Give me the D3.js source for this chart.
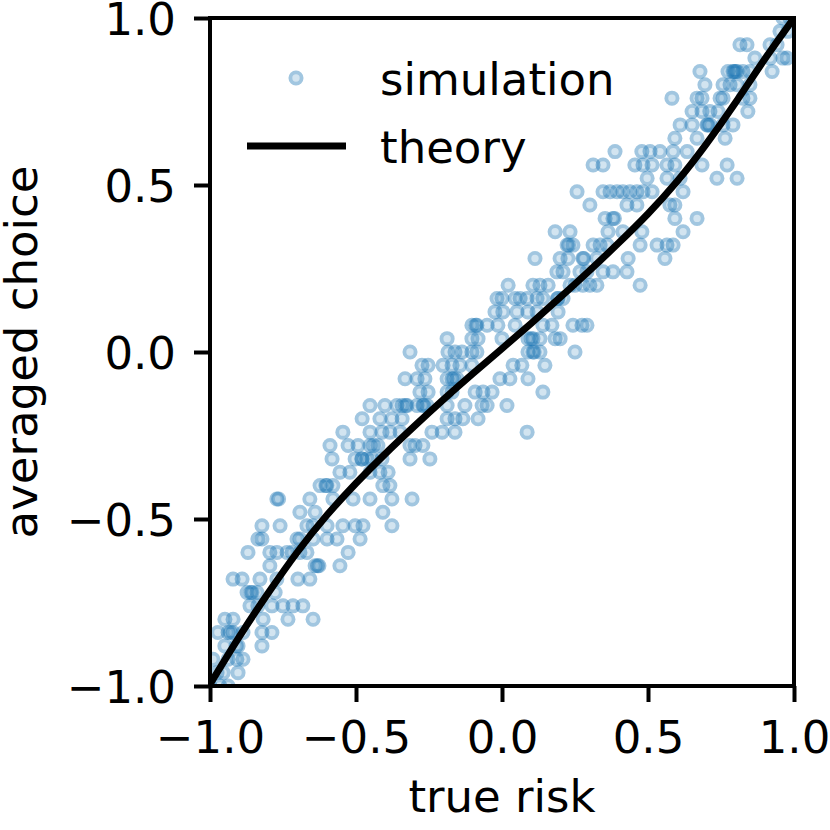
<!DOCTYPE html>
<html>
<head>
<meta charset="utf-8">
<script src="https://cdn.jsdelivr.net/npm/d3@7"></script>
<style>
    body { margin: 0; background: #fff; }
    text { font-family: "DejaVu Sans", sans-serif; fill: #000; }
</style>
</head>
<body>
<svg id="chart" width="830" height="830" viewBox="0 0 830 830"></svg>
<script>
// Averaged choice levels (rows of the scatter), from -1.00 to 1.00
const choiceLevels = [
    -1.00, -0.96, -0.92, -0.88, -0.84, -0.80, -0.76, -0.72, -0.68, -0.64,
    -0.60, -0.56, -0.52, -0.48, -0.44, -0.40, -0.36, -0.32, -0.28, -0.24,
    -0.20, -0.16, -0.12, -0.08, -0.04, 0.00, 0.04, 0.08, 0.12, 0.16,
    0.20, 0.24, 0.28, 0.32, 0.36, 0.40, 0.44, 0.48, 0.52, 0.56,
    0.60, 0.64, 0.68, 0.72, 0.76, 0.80, 0.84, 0.88, 0.92, 0.96, 1.00
];

// True risk of every simulated point, one list per choice level
const riskByLevel = [
    [-1.000, -0.966, -0.938],
    [-0.976, -0.955, -0.904],
    [-0.990, -0.938, -0.908, -0.887],
    [-0.949, -0.910, -0.904, -0.822],
    [-0.973, -0.938, -0.930, -0.921, -0.887, -0.822, -0.788],
    [-0.949, -0.921, -0.818, -0.733, -0.647],
    [-0.863, -0.836, -0.788, -0.750, -0.716, -0.682],
    [-0.873, -0.860, -0.856, -0.839, -0.777],
    [-0.921, -0.890, -0.829, -0.771, -0.699, -0.658],
    [-0.795, -0.640, -0.632, -0.627, -0.555],
    [-0.870, -0.795, -0.771, -0.736, -0.719, -0.692, -0.668, -0.527],
    [-0.836, -0.822, -0.702, -0.692, -0.647, -0.599, -0.565, -0.486],
    [-0.822, -0.760, -0.668, -0.647, -0.599, -0.545, -0.503, -0.476, -0.377],
    [-0.692, -0.640, -0.408],
    [-0.771, -0.765, -0.658, -0.579, -0.510, -0.452, -0.377, -0.308],
    [-0.623, -0.603, -0.600, -0.579, -0.408, -0.384],
    [-0.555, -0.521, -0.452, -0.418, -0.390],
    [-0.582, -0.503, -0.480, -0.479, -0.462, -0.445, -0.411, -0.315, -0.247],
    [-0.589, -0.527, -0.493, -0.452, -0.440, -0.425, -0.315, -0.298, -0.271],
    [-0.545, -0.452, -0.411, -0.384, -0.349, -0.240, -0.205, -0.161, 0.086],
    [-0.479, -0.418, -0.377, -0.342, -0.188, -0.161, -0.134, -0.082],
    [-0.452, -0.401, -0.360, -0.342, -0.330, -0.325, -0.291, -0.271, -0.268, -0.257, -0.188, -0.127, -0.068, -0.051, 0.017],
    [-0.281, -0.253, -0.188, -0.171, -0.092, -0.065, -0.034, 0.140],
    [-0.332, -0.291, -0.264, -0.188, -0.171, -0.165, -0.154, -0.007, 0.027, 0.089],
    [-0.274, -0.253, -0.202, -0.171, -0.144, -0.103, 0.038, 0.068, 0.147],
    [-0.315, -0.185, -0.161, -0.137, -0.103, -0.086, 0.089, 0.106, 0.110, 0.130, 0.250],
    [-0.188, -0.103, -0.082, 0.000, 0.089, 0.100, 0.106, 0.130, 0.182, 0.199],
    [-0.103, -0.090, -0.086, -0.051, -0.014, 0.045, 0.140, 0.171, 0.243, 0.274, 0.291],
    [-0.024, 0.003, 0.051, 0.089, 0.120, 0.192],
    [-0.017, 0.000, 0.045, 0.062, 0.086, 0.120, 0.140, 0.190, 0.192, 0.209],
    [0.021, 0.106, 0.130, 0.158, 0.233, 0.250, 0.277, 0.301, 0.325, 0.473],
    [0.188, 0.209, 0.267, 0.291, 0.346, 0.380, 0.428],
    [0.113, 0.199, 0.226, 0.277, 0.280, 0.325, 0.432, 0.558],
    [0.223, 0.228, 0.243, 0.312, 0.336, 0.360, 0.473, 0.531, 0.565, 0.586],
    [0.182, 0.233, 0.363, 0.414, 0.479, 0.620],
    [0.353, 0.380, 0.385, 0.592, 0.668],
    [0.301, 0.428, 0.462, 0.575, 0.592],
    [0.257, 0.346, 0.370, 0.394, 0.414, 0.438, 0.462, 0.483, 0.514, 0.620],
    [0.497, 0.565, 0.610, 0.736, 0.805],
    [0.312, 0.346, 0.455, 0.483, 0.514, 0.565, 0.592, 0.685, 0.771],
    [0.387, 0.479, 0.507, 0.541, 0.586, 0.634],
    [0.592, 0.668, 0.764],
    [0.610, 0.651, 0.702, 0.705, 0.712, 0.757, 0.791],
    [0.651, 0.685, 0.712, 0.740, 0.842],
    [0.582, 0.668, 0.685, 0.747, 0.757, 0.825, 0.849],
    [0.695, 0.757, 0.781, 0.805, 0.849],
    [0.678, 0.774, 0.791, 0.795, 0.800, 0.805, 0.825, 0.849, 0.925],
    [0.866, 0.918, 0.962, 0.976],
    [0.815, 0.839, 0.918, 0.942],
    [0.952, 0.979],
    [0.962, 0.986]
];

// Theory curve, every 0.1 of true risk
const theoryRisk = [-1.0, -0.9, -0.8, -0.7, -0.6, -0.5, -0.4, -0.3, -0.2, -0.1, 0.0,
    0.1, 0.2, 0.3, 0.4, 0.5, 0.6, 0.7, 0.8, 0.9, 1.0];
const theoryChoice = [-0.995, -0.853, -0.721, -0.598, -0.489, -0.393, -0.305, -0.222, -0.142, -0.065, 0.01,
    0.086, 0.164, 0.244, 0.327, 0.414, 0.511, 0.623, 0.747, 0.877, 1.0];

const tickValues = [-1.0, -0.5, 0.0, 0.5, 1.0];
const legendLabels = ["simulation", "theory"];

const blue = "#1f77b4";
const fontSize = 45;

const svg = d3.select('#chart');

// Plot area
const plot = { left: 210, right: 794, top: 18, bottom: 686 };

const x = d3.scaleLinear()
    .domain([-1, 1])
    .range([plot.left, plot.right]);

const y = d3.scaleLinear()
    .domain([-1, 1])
    .range([plot.bottom, plot.top]);

// Flatten rows into points
const points = [];
choiceLevels.forEach((c, i) => {
    riskByLevel[i].forEach(r => points.push({ risk: r, choice: c }));
});

// Clip to axes
svg.append("defs")
    .append("clipPath")
    .attr("id", "plot-clip")
    .append("rect")
    .attr("x", plot.left)
    .attr("y", plot.top)
    .attr("width", plot.right - plot.left)
    .attr("height", plot.bottom - plot.top);

// One marker: pale disc with a darker ring
function drawMarker(sel) {
    sel.append("circle")
        .attr("r", 7.5)
        .attr("fill", blue)
        .attr("fill-opacity", 0.2);
    sel.append("circle")
        .attr("r", 5.6)
        .attr("fill", "none")
        .attr("stroke", blue)
        .attr("stroke-opacity", 0.27)
        .attr("stroke-width", 3.8);
}

// Simulation markers
svg.append("g")
    .attr("clip-path", "url(#plot-clip)")
    .selectAll(".marker")
    .data(points)
    .enter()
    .append("g")
    .classed("marker", true)
    .attr("transform", d => "translate(" + x(d.risk) + "," + y(d.choice) + ")")
    .call(drawMarker);

// Theory line
const line = d3.line()
    .x(d => x(d[0]))
    .y(d => y(d[1]))
    .curve(d3.curveNatural);

svg.append("path")
    .datum(theoryRisk.map((r, i) => [r, theoryChoice[i]]))
    .attr("clip-path", "url(#plot-clip)")
    .attr("d", line)
    .attr("fill", "none")
    .attr("stroke", "#000")
    .attr("stroke-width", 7);

// Axes
const fmt = d3.format(".1f");

const xAxis = svg.append("g")
    .attr("transform", "translate(0," + plot.bottom + ")")
    .call(d3.axisBottom(x)
        .tickValues(tickValues)
        .tickSize(16)
        .tickPadding(19)
        .tickFormat(fmt));

const yAxis = svg.append("g")
    .attr("transform", "translate(" + plot.left + ",0)")
    .call(d3.axisLeft(y)
        .tickValues(tickValues)
        .tickSize(16)
        .tickPadding(18)
        .tickFormat(fmt));

[xAxis, yAxis].forEach(ax => {
    ax.attr("font-family", null).attr("font-size", null);
    ax.select(".domain").remove();
    ax.selectAll(".tick line")
        .attr("stroke", "#000")
        .attr("stroke-width", 4);
    ax.selectAll(".tick text")
        .style("font-size", fontSize + "px");
});
yAxis.selectAll(".tick text").attr("dy", "0.37em");

// Spines
svg.append("rect")
    .attr("x", plot.left)
    .attr("y", plot.top)
    .attr("width", plot.right - plot.left)
    .attr("height", plot.bottom - plot.top)
    .attr("fill", "none")
    .attr("stroke", "#000")
    .attr("stroke-width", 4);

// Axis labels
svg.append("text")
    .attr("x", (plot.left + plot.right) / 2)
    .attr("y", 812)
    .attr("text-anchor", "middle")
    .style("font-size", fontSize + "px")
    .text("true risk");

svg.append("text")
    .attr("transform", "translate(37," + ((plot.top + plot.bottom) / 2) + ") rotate(-90)")
    .attr("text-anchor", "middle")
    .style("font-size", fontSize + "px")
    .text("averaged choice");

// Legend
const legend = svg.append("g");

legend.append("g")
    .attr("transform", "translate(296,78)")
    .call(drawMarker);

legend.append("line")
    .attr("x1", 247)
    .attr("x2", 346)
    .attr("y1", 146)
    .attr("y2", 146)
    .attr("stroke", "#000")
    .attr("stroke-width", 7);

legend.selectAll(".legend-label")
    .data(legendLabels)
    .enter()
    .append("text")
    .classed("legend-label", true)
    .attr("x", 380)
    .attr("y", (d, i) => 95 + i * 68)
    .style("font-size", fontSize + "px")
    .text(d => d);
</script>
</body>
</html>
